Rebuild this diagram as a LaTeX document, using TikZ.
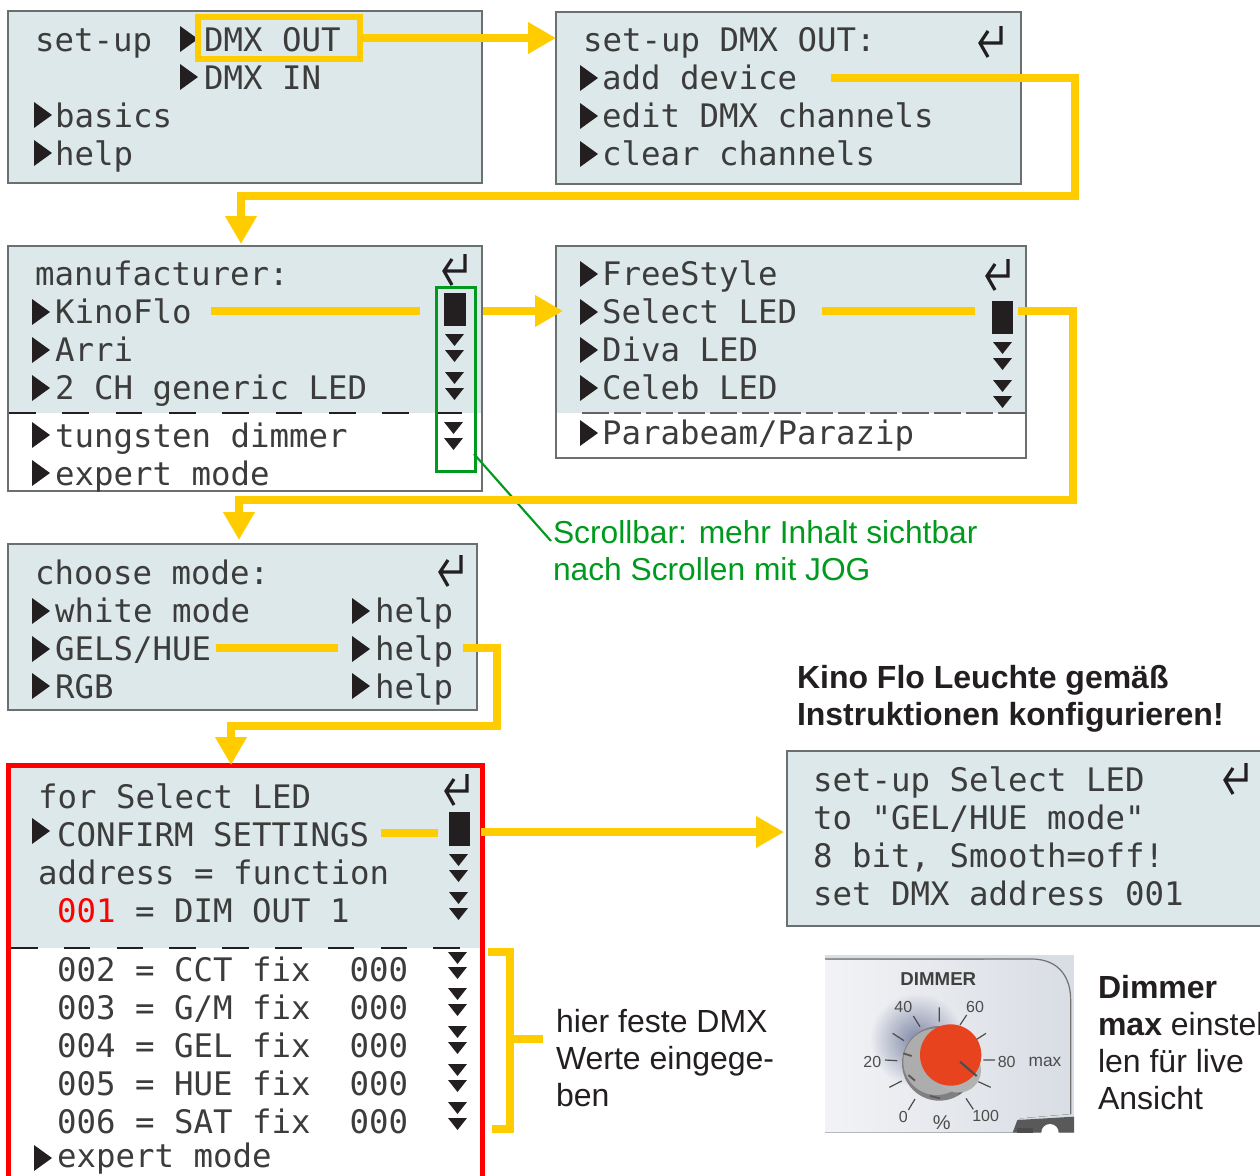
\documentclass[tikz,border=0pt]{standalone}
\usepackage{fontspec}
\setmainfont{Liberation Sans}
\newfontfamily\lcdfont{DejaVu Sans Mono}
\usetikzlibrary{arrows.meta,fadings}
\tikzfading[name=softdisc,inner color=transparent!0,outer color=transparent!100]
\definecolor{lcd}{HTML}{DCE8E9}
\definecolor{ink}{HTML}{231F20}
\definecolor{lcdink}{HTML}{3C3C3C}
\definecolor{amber}{HTML}{FFCC00}
\definecolor{grn}{HTML}{009A1E}
\definecolor{frame}{HTML}{6A6F70}
\definecolor{knobred}{HTML}{E8431F}
\definecolor{panelA}{HTML}{F2F3F6}
\definecolor{panelB}{HTML}{D9DDE4}
\definecolor{shadow}{HTML}{7F88A6}
\tikzset{
  lcdbox/.style={draw=frame,line width=.9pt,inner sep=0pt,outer sep=0pt,anchor=north west},
  lcdtext/.style={anchor=base west,inner sep=0pt,outer sep=0pt,text=lcdink,font=\lcdfont\fontsize{24.3pt}{28pt}\selectfont},
  ybar/.style={draw=amber,line width=6pt},
  yarrow/.style={draw=amber,line width=5.6pt,-{Triangle[length=21pt,width=22.5pt]}},
  sans/.style={anchor=north west,inner sep=0pt,outer sep=0pt,align=left,text=ink,font=\fontsize{24pt}{27.75pt}\selectfont},
  photo/.style={inner sep=0pt,outer sep=0pt,text=#1},
}
% helpers: x, row centre / top
\newcommand{\rowt}[4]{\node[lcdtext] (#1) at (#2-1,#3+12) {#4};}
\newcommand{\tri}[2]{\fill[ink] (#1,#2-13) -- (#1+18,#2) -- (#1,#2+13) -- cycle;}
\newcommand{\dtri}[2]{\fill[ink] (#1,#2) -- (#1+19,#2) -- (#1+9.5,#2+12) -- cycle;}
\newcommand{\retn}[2]{\draw[ink,line width=2.4pt,line join=miter] (#1+23,#2) -- (#1+23,#2+17) -- (#1+2,#2+17) (#1+10,#2+5) -- (#1+2,#2+17) -- (#1+10,#2+31);}
\begin{document}
\begin{tikzpicture}[x=0.75pt,y=-0.75pt]
\useasboundingbox (0,0) rectangle (1260,1175);
\clip (0,0) rectangle (1260,1175);
\fill[white] (0,0) rectangle (1260,1175);

% ---------- Box A
\node[lcdbox,fill=lcd,minimum width=355.5pt,minimum height=129pt] (A) at (8,11) {};
\rowt{a1}{36}{39}{set-up}
\rowt{a2}{205}{39}{DMX~OUT}
\rowt{a3}{205}{77}{DMX~IN}
\rowt{a4}{56}{115}{basics}
\rowt{a5}{56}{153}{help}
\tri{180}{39}\tri{180}{77}\tri{34}{115}\tri{34}{153}
\node[draw=amber,line width=4.5pt,inner sep=0pt,outer sep=0pt,minimum width=121.5pt,minimum height=31.5pt,anchor=north west] (hl) at (198,17) {};

% ---------- Box B
\node[lcdbox,fill=lcd,minimum width=348.75pt,minimum height=129pt] (B) at (556,12) {};
\rowt{b1}{584}{39}{set-up~DMX~OUT:}
\rowt{b2}{603}{77}{add~device}
\rowt{b3}{603}{115}{edit~DMX~channels}
\rowt{b4}{603}{153}{clear~channels}
\tri{580}{78}\tri{580}{116}\tri{580}{154}
\retn{978}{26}

% ---------- Box C
\fill[lcd] (8,246) rectangle (482,413);
\node[lcdbox,minimum width=355.5pt,minimum height=183.75pt] (C) at (8,246) {};
\draw[ink,line width=1.9pt,dash pattern=on 20pt off 20pt] (9,413) -- (481,413);
\rowt{c1}{36}{273}{manufacturer:}
\rowt{c2}{56}{311}{KinoFlo}
\rowt{c3}{56}{349}{Arri}
\rowt{c4}{56}{387}{2~CH~generic~LED}
\rowt{c5}{56}{435}{tungsten~dimmer}
\rowt{c6}{56}{473}{expert~mode}
\tri{32}{312}\tri{32}{350}\tri{32}{388}\tri{32}{435}\tri{32}{473}
\retn{442}{254}
\fill[ink] (444,293) rectangle (466,326);
\dtri{445}{334}\dtri{445}{350}\dtri{445}{372}\dtri{445}{388}\dtri{444}{422}\dtri{444}{438}
\node[draw=grn,line width=2pt,inner sep=0pt,outer sep=0pt,minimum width=29.25pt,minimum height=138pt,anchor=north west] (sb) at (436.5,287.5) {};

% ---------- Box D
\fill[lcd] (556,246) rectangle (1026,413);
\node[lcdbox,minimum width=352.5pt,minimum height=159pt] (D) at (556,246) {};
\draw[ink!70,line width=1.4pt,dash pattern=on 20pt off 4pt] (582,413) -- (1025,413);
\rowt{d1}{603}{273}{FreeStyle}
\rowt{d2}{603}{311}{Select~LED}
\rowt{d3}{603}{349}{Diva~LED}
\rowt{d4}{603}{387}{Celeb~LED}
\rowt{d5}{603}{432}{Parabeam/Parazip}
\tri{580}{274}\tri{580}{312}\tri{580}{350}\tri{580}{388}\tri{580}{433}
\retn{985}{259}
\fill[ink] (992,301) rectangle (1013,334);
\dtri{993}{342}\dtri{993}{358}\dtri{993}{380}\dtri{993}{396}

% ---------- Box E
\node[lcdbox,fill=lcd,minimum width=351.75pt,minimum height=124.5pt] (E) at (8,544) {};
\rowt{e1}{36}{572}{choose~mode:}
\rowt{e2}{56}{610}{white~mode}
\rowt{e3}{56}{648}{GELS/HUE}
\rowt{e4}{56}{686}{RGB}
\rowt{e5}{376}{610}{help}
\rowt{e6}{376}{648}{help}
\rowt{e7}{376}{686}{help}
\tri{32}{611}\tri{32}{649}\tri{32}{686}\tri{352}{611}\tri{352}{649}\tri{352}{686}
\retn{438}{555}

% ---------- Box F (red)
\fill[lcd] (8,765) rectangle (482,948);
\draw[ink,line width=1.9pt,dash pattern=on 20pt off 19.6pt] (11,948) -- (480,948);
\node[draw=red,line width=3.75pt,inner sep=0pt,outer sep=0pt,minimum width=355.5pt,minimum height=330pt,anchor=north west] (F) at (8.5,765.5) {};
\rowt{f1}{39}{796}{for~Select~LED}
\rowt{f2}{58}{834}{CONFIRM~SETTINGS}
\rowt{f3}{39}{872}{address~=~function}
\rowt{f4}{58}{910}{\textcolor{red}{001}~=~DIM~OUT~1}
\rowt{f5}{58}{969}{002~=~CCT~fix~~000}
\rowt{f6}{58}{1007}{003~=~G/M~fix~~000}
\rowt{f7}{58}{1045}{004~=~GEL~fix~~000}
\rowt{f8}{58}{1083}{005~=~HUE~fix~~000}
\rowt{f9}{58}{1121}{006~=~SAT~fix~~000}
\rowt{f10}{58}{1155}{expert~mode}
\tri{32}{831}\tri{34}{1158}
\retn{444}{774}
\fill[ink] (449,812) rectangle (470,846);
\dtri{449}{854}\dtri{449}{870}\dtri{449}{892}\dtri{449}{908}
\dtri{448}{952}\dtri{448}{967}\dtri{448}{988}\dtri{448}{1004}
\dtri{448}{1026}\dtri{448}{1042}\dtri{448}{1064}\dtri{448}{1080}\dtri{448}{1102}\dtri{448}{1118}

% ---------- Box G
\node[lcdbox,fill=lcd,minimum width=355pt,minimum height=131.25pt] (G) at (787,751) {};
\rowt{g1}{814}{779}{set-up~Select~LED}
\rowt{g2}{814}{817}{to~"GEL/HUE~mode"}
\rowt{g3}{814}{855}{8~bit,~Smooth=off!}
\rowt{g4}{814}{893}{set~DMX~address~001}
\retn{1223}{763}

% ---------- Photo of the dimmer
\begin{scope}[shift={(820,950)},x=0.25pt,y=-0.25pt]
  \begin{scope}
    \clip (15,15) rectangle (762,548);
    \fill[panelB] (15,15) rectangle (762,548);
    \fill[left color=panelA,right color=panelB] (15,30) -- (640,27) .. controls (720,30) and (752,85) .. (752,150) -- (752,492) -- (600,505) -- (578,548) -- (15,548) -- cycle;
    \draw[black!55,line width=.9pt] (15,27) -- (640,27) .. controls (720,30) and (752,85) .. (752,150) -- (752,492);
    \fill[shadow,path fading=softdisc] (290,270) circle (140);
    \fill[black!65] (578,548) -- (592,510) -- (762,500) -- (762,548) -- cycle;
    \fill[white] (690,548) circle (26);
    \fill[black!70] (590,548) rectangle (640,535);
    \fill[black!50] (358,340) circle (112);
    \fill[black!32] (350,335) circle (100);
    \draw[black!65,line width=1.4pt] (265,375) -- (285,392) (330,438) -- (360,445) (415,430) -- (432,420) (250,310) -- (275,318);
    \fill[black!30] (415,360) circle (68);
    \fill[knobred] (392,315) circle (92);
    \draw[black!70,line width=1.5pt] (420,335) -- (470,378);
    \draw[black!70,line width=.9pt] (358,172) -- (358,215) (280,198) -- (300,230) (218,250) -- (252,272) (195,330) -- (232,332) (208,412) -- (245,393) (265,480) -- (285,447) (438,445) -- (460,478) (475,395) -- (512,412) (490,330) -- (525,330) (470,268) -- (498,250) (420,225) -- (440,195);
    \node[photo=black!75,font=\bfseries\fontsize{14pt}{16pt}\selectfont] (pdim) at (355,88) {DIMMER};
    \node[photo=black!70,font=\fontsize{12pt}{14pt}\selectfont] (p40) at (250,170) {40};
    \node[photo=black!70,font=\fontsize{12pt}{14pt}\selectfont] (p60) at (465,170) {60};
    \node[photo=black!70,font=\fontsize{12pt}{14pt}\selectfont] (p20) at (157,337) {20};
    \node[photo=black!70,font=\fontsize{12pt}{14pt}\selectfont] (p80) at (560,335) {80};
    \node[photo=black!70,font=\fontsize{13pt}{15pt}\selectfont] (pmax) at (675,335) {max};
    \node[photo=black!70,font=\fontsize{12pt}{14pt}\selectfont] (p0) at (250,500) {0};
    \node[photo=black!70,font=\fontsize{15pt}{17pt}\selectfont] (ppc) at (365,518) {\%};
    \node[photo=black!70,font=\fontsize{12pt}{14pt}\selectfont] (p100) at (497,498) {100};
  \end{scope}
\end{scope}

% ---------- Texts
\node[sans,text=grn,font=\fontsize{23.8pt}{27.75pt}\selectfont] (scrolltxt) at (553,520) {Scrollbar: mehr Inhalt sichtbar\\nach Scrollen mit JOG};
\node[sans,font=\bfseries\fontsize{24pt}{27.75pt}\selectfont] (kino) at (797,665) {Kino Flo Leuchte gemäß\\Instruktionen konfigurieren!};
\node[sans] (fest) at (556,1009) {hier feste DMX\\Werte eingege-\\ben};
\node[sans] (dimtxt) at (1098,975) {\textbf{Dimmer}\\\textbf{max} einstel\\len für live\\Ansicht};

% ---------- Green leader
\coordinate (leadEnd) at (551,541);
\coordinate (leadStart) at (474,454);
\draw[grn,line width=1.6pt] (leadStart) -- (leadEnd);

% ---------- Amber connectors
\draw[yarrow] (hl.east) -- (hl.east -| B.west);
\coordinate (bs) at (831,78);
\coordinate (bt) at (241,244);
\draw[yarrow,line width=5.4pt] (bs) -- (1075,78) -- (1075,196) -- (241,196) -- (bt);
\coordinate (k1) at (211,311);\coordinate (k2) at (420,311);
\draw[ybar] (k1) -- (k2);
\coordinate (k3) at (483,311);\coordinate (k4) at (563,311);
\draw[yarrow] (k3) -- (k4);
\coordinate (s1) at (822,311);\coordinate (s2) at (975,311);
\draw[ybar] (s1) -- (s2);
\coordinate (s3) at (1018,311);\coordinate (s4) at (239,540);
\draw[yarrow,line width=5.4pt] (s3) -- (1073,311) -- (1073,500) -- (239,500) -- (s4);
\coordinate (h1) at (216,648);\coordinate (h2) at (338,648);
\draw[ybar] (h1) -- (h2);
\coordinate (h3) at (463,648);\coordinate (h4) at (231,765);
\draw[yarrow,line width=5.4pt] (h3) -- (497,648) -- (497,726) -- (231,726) -- (h4);
\coordinate (c1c) at (381,833);\coordinate (c2c) at (438,833);
\draw[ybar] (c1c) -- (c2c);
\coordinate (c3c) at (481,832);\coordinate (c4c) at (784,832);
\draw[yarrow] (c3c) -- (c4c);
% bracket
\coordinate (br1) at (488,952);\coordinate (br2) at (492,1129);\coordinate (br3) at (543,1039);
\draw[draw=amber,line width=5.4pt] (br1) -- (510,952) -- (510,1129) -- (br2);
\draw[draw=amber,line width=5.4pt] (510,1039) -- (br3);
\end{tikzpicture}
\end{document}
